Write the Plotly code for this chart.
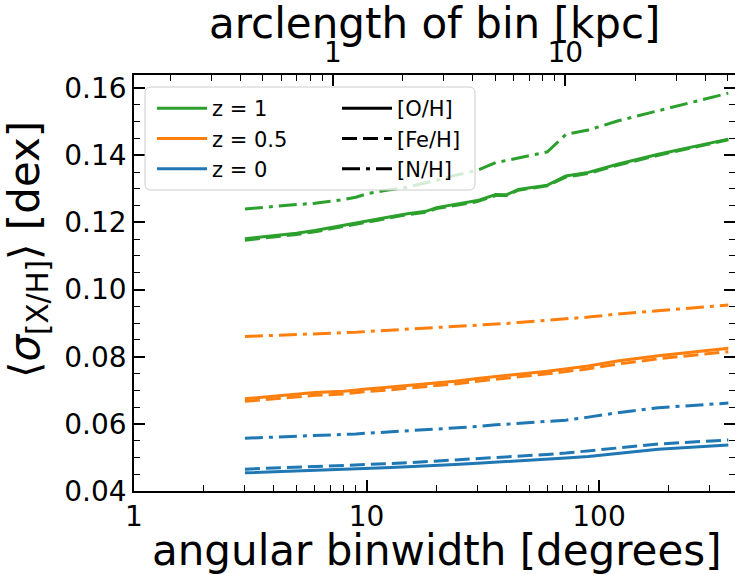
import numpy as np
import plotly.graph_objects as go

# angular bin widths (divisors of 360 deg)
deg = [3, 4, 5, 6, 8, 9, 10, 12, 15, 18, 20, 24, 30, 36, 40, 45, 60, 72, 90, 120, 180, 360]

green_OH = [0.1151, 0.1160, 0.1168, 0.1176, 0.1192, 0.1199, 0.1206, 0.1214, 0.1226, 0.1233, 0.1244,
            0.1253, 0.1265, 0.1283, 0.1282, 0.1298, 0.1311, 0.1338, 0.1349, 0.1373, 0.1403, 0.1448]
green_FeH = [0.1147, 0.1156, 0.1164, 0.1172, 0.1188, 0.1195, 0.1202, 0.1211, 0.1223, 0.1230, 0.1241,
             0.1250, 0.1262, 0.1280, 0.1280, 0.1296, 0.1309, 0.1335, 0.1346, 0.1370, 0.1400, 0.1446]
green_NH = [0.1240, 0.1248, 0.1253, 0.1257, 0.1268, 0.1275, 0.1285, 0.1295, 0.1305, 0.1318, 0.1325,
            0.1340, 0.1355, 0.1378, 0.1385, 0.1392, 0.1410, 0.1462, 0.1475, 0.1502, 0.1532, 0.1585]

orange_OH = [0.0675, 0.0683, 0.0688, 0.0693, 0.0697, 0.0701, 0.0704, 0.0708, 0.0714, 0.0719, 0.0722,
             0.0727, 0.0735, 0.0740, 0.0743, 0.0748, 0.0757, 0.0763, 0.0772, 0.0787, 0.0803, 0.0825]
orange_FeH = [0.0667, 0.0675, 0.0680, 0.0685, 0.0689, 0.0693, 0.0696, 0.0700, 0.0706, 0.0711, 0.0714,
              0.0719, 0.0727, 0.0732, 0.0735, 0.0740, 0.0749, 0.0755, 0.0764, 0.0778, 0.0794, 0.0815]
orange_NH = [0.0860, 0.0863, 0.0866, 0.0868, 0.0871, 0.0873, 0.0875, 0.0878, 0.0881, 0.0884, 0.0886,
             0.0889, 0.0893, 0.0897, 0.0899, 0.0902, 0.0908, 0.0912, 0.0918, 0.0927, 0.0937, 0.0954]

blue_OH = [0.0454, 0.0457, 0.0459, 0.0461, 0.0463, 0.0465, 0.0466, 0.0469, 0.0472, 0.0474, 0.0476,
           0.0479, 0.0483, 0.0486, 0.0488, 0.0490, 0.0494, 0.0498, 0.0503, 0.0512, 0.0524, 0.0537]
blue_FeH = [0.0465, 0.0468, 0.0470, 0.0472, 0.0475, 0.0477, 0.0478, 0.0481, 0.0484, 0.0487, 0.0489,
            0.0492, 0.0496, 0.0499, 0.0501, 0.0504, 0.0509, 0.0513, 0.0519, 0.0528, 0.0540, 0.0552]
blue_NH = [0.0557, 0.0560, 0.0562, 0.0565, 0.0568, 0.0570, 0.0572, 0.0575, 0.0579, 0.0582, 0.0585,
           0.0588, 0.0592, 0.0597, 0.0599, 0.0602, 0.0607, 0.0611, 0.0620, 0.0633, 0.0648, 0.0662]

z_labels = ["z = 1", "z = 0.5", "z = 0"]
z_colors = ["#2ca02c", "#ff7f0e", "#1f77b4"]
elem_labels = ["[O/H]", "[Fe/H]", "[N/H]"]

series = {
    "#2ca02c": [green_OH, green_FeH, green_NH],
    "#ff7f0e": [orange_OH, orange_FeH, orange_NH],
    "#1f77b4": [blue_OH, blue_FeH, blue_NH],
}

R_KPC = 8.0
arclen = [d * np.pi / 180.0 * R_KPC for d in deg]

DASHES = ["solid", "15px,6px", "18px,6px,4px,6px"]
LW = 3
FONT = "DejaVu Sans, Verdana, sans-serif"

fig = go.Figure()

for col in ["#1f77b4", "#ff7f0e", "#2ca02c"]:
    for k, ys in enumerate(series[col]):
        fig.add_trace(go.Scatter(x=deg, y=ys, mode="lines",
                                 line=dict(color=col, width=LW, dash=DASHES[k]),
                                 showlegend=False, hoverinfo="skip"))

# invisible traces to carry the secondary axes
fig.add_trace(go.Scatter(x=arclen, y=green_OH, xaxis="x2", yaxis="y", mode="lines",
                         line=dict(width=0), opacity=0, showlegend=False, hoverinfo="skip"))
fig.add_trace(go.Scatter(x=deg, y=green_OH, xaxis="x", yaxis="y2", mode="lines",
                         line=dict(width=0), opacity=0, showlegend=False, hoverinfo="skip"))

# legend entries: colours
for lab, col in zip(z_labels, z_colors):
    fig.add_trace(go.Scatter(x=[None], y=[None], mode="lines", name=lab,
                             line=dict(color=col, width=LW), legend="legend",
                             legendgroup=lab))
# legend entries: line styles
for lab, ds in zip(elem_labels, DASHES):
    fig.add_trace(go.Scatter(x=[None], y=[None], mode="lines", name=lab,
                             line=dict(color="black", width=LW, dash=ds), legend="legend2",
                             legendgroup=lab))

W, H = 735, 575
L, R, T, B = 134, 0, 75, 84
pw, ph = W - L - R, H - T - B

XMAX_LOG = 2.585
YMIN, YMAX = 0.04, 0.1639

def px_x(p):
    return (p - L) / pw

def px_y(p):
    return (H - B - p) / ph

minor_deg = [m * 10 ** e for e in range(0, 3) for m in range(2, 10)]
minor_kpc = [m * 10 ** e for e in range(-1, 2) for m in range(2, 10)]
kmin = np.log10(np.pi / 180.0 * R_KPC)

tickfont = dict(family=FONT, size=28, color="black")

fig.update_layout(
    width=W, height=H,
    margin=dict(l=L, r=R, t=T, b=B, pad=0),
    paper_bgcolor="white", plot_bgcolor="white",
    font=dict(family=FONT, color="black"),
    xaxis=dict(type="log", range=[0, XMAX_LOG], tickmode="array", tickvals=[1, 10, 100],
               ticktext=["1", "10", "100"], ticks="inside", ticklen=11, tickwidth=1.5,
               tickcolor="black", showline=True, linecolor="black", linewidth=1.5,
               showgrid=False, zeroline=False, tickfont=tickfont, mirror=False,
               minor=dict(tickmode="array", tickvals=minor_deg, ticks="inside", ticklen=6,
                          tickwidth=1.2, tickcolor="black", showgrid=False)),
    xaxis2=dict(type="log", overlaying="x", side="top", anchor="y",
                range=[kmin, kmin + XMAX_LOG], tickmode="array", tickvals=[1, 10],
                ticktext=["1", "10"], ticks="inside", ticklen=11, tickwidth=1.5,
                tickcolor="black", showline=True, linecolor="black", linewidth=1.5,
                showgrid=False, zeroline=False, tickfont=tickfont,
                minor=dict(tickmode="array", tickvals=minor_kpc, ticks="inside", ticklen=6,
                           tickwidth=1.2, tickcolor="black", showgrid=False)),
    yaxis=dict(range=[YMIN, YMAX], tickmode="array",
               tickvals=[0.04, 0.06, 0.08, 0.10, 0.12, 0.14, 0.16],
               ticktext=["0.04", "0.06", "0.08", "0.10", "0.12", "0.14", "0.16"],
               ticks="inside", ticklen=11, tickwidth=1.5, tickcolor="black",
               showline=True, linecolor="black", linewidth=1.5, showgrid=False,
               zeroline=False, tickfont=tickfont, mirror=False,
               minor=dict(dtick=0.005, tick0=0.04, ticks="inside", ticklen=6,
                          tickwidth=1.2, tickcolor="black", showgrid=False)),
    yaxis2=dict(range=[YMIN, YMAX], overlaying="y", side="right", anchor="x",
                tickmode="array", tickvals=[0.04, 0.06, 0.08, 0.10, 0.12, 0.14, 0.16],
                showticklabels=False, ticks="inside", ticklen=11, tickwidth=1.5,
                tickcolor="black", showline=False, showgrid=False, zeroline=False,
                minor=dict(dtick=0.005, tick0=0.04, ticks="inside", ticklen=6,
                           tickwidth=1.2, tickcolor="black", showgrid=False)),
    legend=dict(x=px_x(152), y=px_y(88), xanchor="left", yanchor="top",
                bgcolor="rgba(0,0,0,0)", borderwidth=0, tracegroupgap=0, itemwidth=50,
                font=dict(family=FONT, size=21, color="black")),
    legend2=dict(x=px_x(337), y=px_y(88), xanchor="left", yanchor="top",
                 bgcolor="rgba(0,0,0,0)", borderwidth=0, tracegroupgap=0, itemwidth=50,
                 font=dict(family=FONT, size=21, color="black")),
    showlegend=True,
)

# legend frame (rounded box, semi-transparent white)
x0, x1 = px_x(145), px_x(475)
y0, y1 = px_y(190), px_y(87)
rx, ry = 6 / pw, 6 / ph
path = (f"M {x0 + rx},{y0} L {x1 - rx},{y0} Q {x1},{y0} {x1},{y0 + ry} "
        f"L {x1},{y1 - ry} Q {x1},{y1} {x1 - rx},{y1} L {x0 + rx},{y1} "
        f"Q {x0},{y1} {x0},{y1 - ry} L {x0},{y0 + ry} Q {x0},{y0} {x0 + rx},{y0} Z")
fig.add_shape(type="path", path=path, xref="paper", yref="paper", layer="above",
              fillcolor="rgba(255,255,255,0.8)", line=dict(color="#cccccc", width=1))

titlefont = dict(family=FONT, size=42, color="black")
fig.add_annotation(text="angular binwidth [degrees]", xref="paper", yref="paper",
                   x=px_x(437), y=px_y(550), xanchor="center", yanchor="middle",
                   showarrow=False, font=titlefont)
fig.add_annotation(text="arclength of bin [kpc]", xref="paper", yref="paper",
                   x=px_x(434), y=px_y(23), xanchor="center", yanchor="middle",
                   showarrow=False, font=titlefont)
fig.add_annotation(text="⟨<i>σ</i><sub>[X/H]</sub>⟩ [dex]", xref="paper", yref="paper",
                   x=px_x(28), y=px_y(250), xanchor="center", yanchor="middle",
                   textangle=-90, showarrow=False, font=titlefont)

fig.write_html("out.html")
